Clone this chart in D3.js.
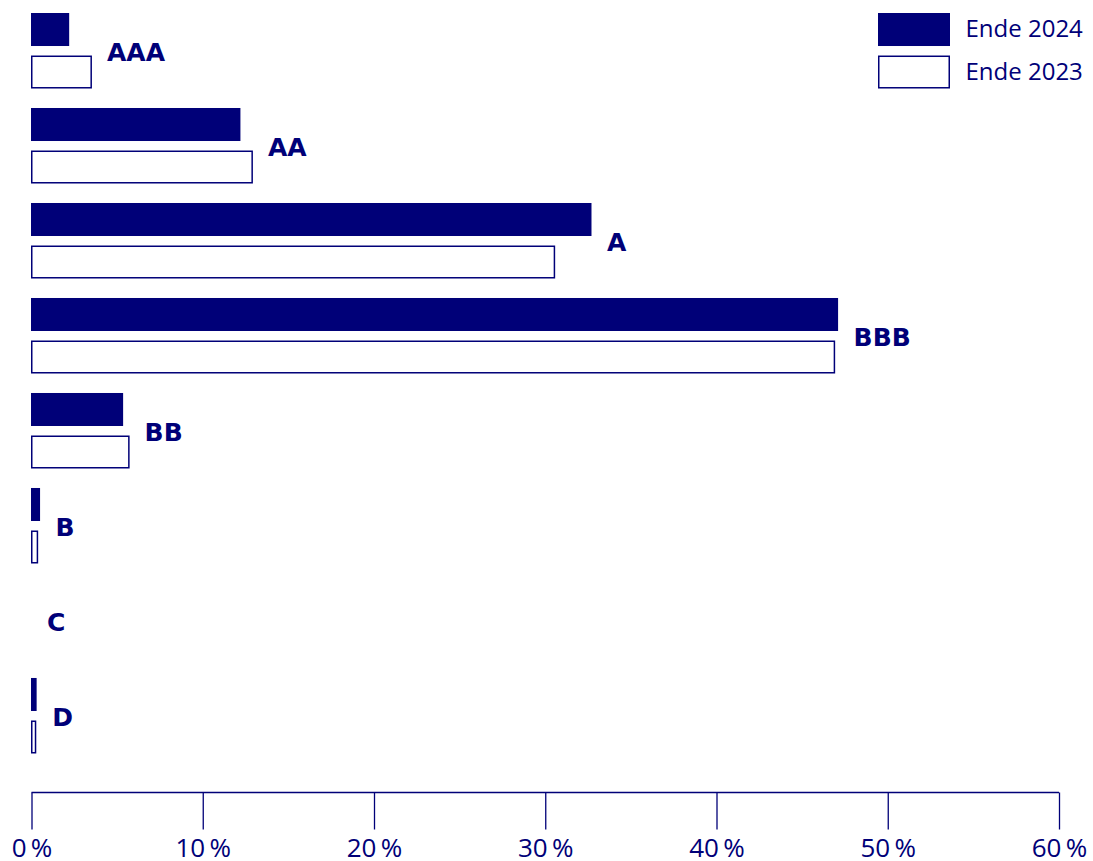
<!DOCTYPE html>
<html><head><meta charset="utf-8">
<script src="https://cdn.jsdelivr.net/npm/d3@7/dist/d3.min.js"></script>
<style>body{margin:0;background:#fff}svg{display:block}</style>
</head><body>
<script>
const categories = ["AAA","AA","A","BBB","BB","B","C","D"];
const values2024 = [2.2, 12.2, 32.7, 47.1, 5.35, 0.5, 0, 0.3];
const values2023 = [3.5, 12.9, 30.55, 46.9, 5.7, 0.36, 0, 0.25];
const seriesNames = ["Ende 2024","Ende 2023"];
const tickValues = [0,10,20,30,40,50,60];

const W = 1093, H = 861, C = "#000078";
const svg = d3.select("body").append("svg").attr("width", W).attr("height", H);

const x = d3.scaleLinear().domain([0,60]).range([31.5,1059]);
const y = d3.scaleBand().domain(categories).range([13,753.5]).paddingInner(0.205).paddingOuter(0);
const ys = d3.scaleBand().domain(seriesNames).range([0,y.bandwidth()]).paddingInner(0.2235);

const data = categories.map((c,i)=>({c, v24: values2024[i], v23: values2023[i]}));
const g = svg.append("g").selectAll("g").data(data).join("g")
  .attr("transform", d=>`translate(0,${y(d.c)})`);

g.filter(d=>d.v24>0).append("rect")
  .attr("x", x(0)-0.5).attr("y", ys("Ende 2024"))
  .attr("width", d=>x(d.v24)-x(0)+0.5).attr("height", ys.bandwidth())
  .attr("fill", C);
g.filter(d=>d.v23>0).append("rect")
  .attr("x", x(0)+0.25).attr("y", ys("Ende 2023")+0.75)
  .attr("width", d=>x(d.v23)-x(0)-0.5).attr("height", ys.bandwidth()-1.5)
  .attr("fill", "#fff").attr("stroke", C).attr("stroke-width", 1.5);
g.append("text")
  .attr("x", d=>x(Math.max(d.v24,d.v23))+15.5)
  .attr("y", y.bandwidth()/2+1.5)
  .attr("dy", "0.36em")
  .attr("fill", C)
  .attr("font-family", "DejaVu Sans")
  .attr("font-weight", "bold")
  .attr("font-size", 25)
  .text(d=>d.c);

// axis
const axis = d3.axisBottom(x).tickValues(tickValues).tickSize(37).tickPadding(9)
  .tickFormat(d=>d+"\u2009%");
const ax = svg.append("g").attr("transform","translate(0,792.5)").call(axis);
ax.select(".domain").attr("stroke", C).attr("stroke-width",1.3).attr("d", `M${x(0)},0H${x(60)}`);
ax.selectAll(".tick line").attr("stroke", C).attr("stroke-width",1.3);
ax.selectAll(".tick text").attr("fill", C).attr("font-family","Open Sans").attr("font-size",26);

// legend
const lg = svg.append("g");
const lx = 878, lw = 72;
lg.append("rect").attr("x", lx).attr("y", y("AAA")+ys("Ende 2024")).attr("width", lw).attr("height", ys.bandwidth()).attr("fill", C);
lg.append("rect").attr("x", lx+0.75).attr("y", y("AAA")+ys("Ende 2023")+0.75).attr("width", lw-1.5).attr("height", ys.bandwidth()-1.5)
  .attr("fill","#fff").attr("stroke",C).attr("stroke-width",1.5);
seriesNames.forEach(s=>{
  lg.append("text").attr("x", 965.5).attr("y", y("AAA")+ys(s)+ys.bandwidth()/2-1).attr("dy","0.36em")
    .attr("fill", C).attr("font-family","Open Sans").attr("font-size",24).text(s);
});
</script>
</body></html>
